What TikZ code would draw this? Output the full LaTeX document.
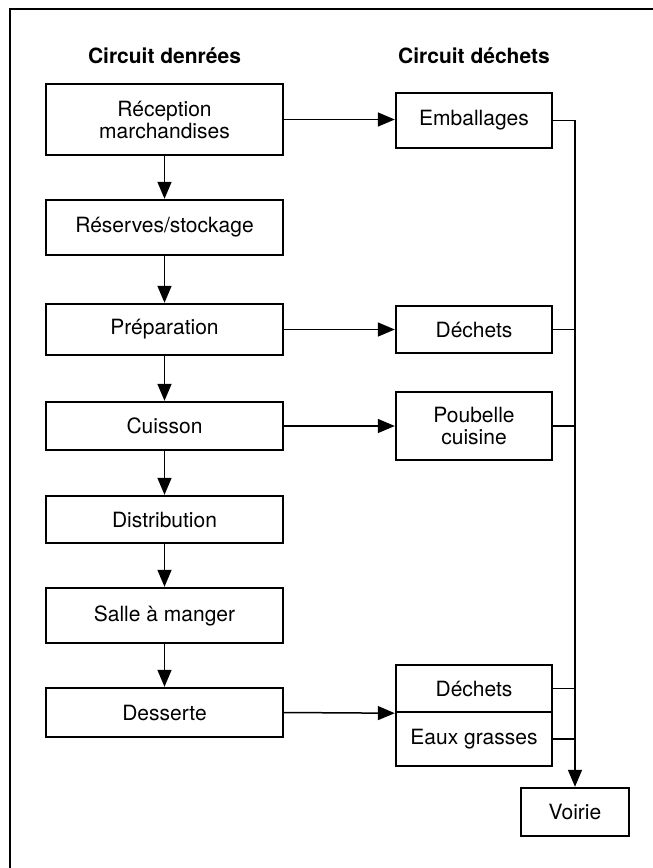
\documentclass[tikz,border=0pt]{standalone}
\usepackage{fontspec}
\setmainfont{TeX Gyre Heros}
\usetikzlibrary{arrows.meta}
\tikzset{>={Triangle[length=17pt, width=14pt]}}
\tikzset{
  etape/.style={shape=rectangle, draw, line width=2.4pt, fill=white, minimum width=237pt, minimum height=51pt, inner sep=0pt, align=center, font=\fontsize{21}{22}\selectfont},
  dechet/.style={etape, minimum width=156pt},
  titre/.style={font=\fontsize{21}{22}\selectfont\bfseries},
  flux/.style={->, draw, line width=1.5pt},
}

\begin{document}
\begin{tikzpicture}[x=1pt, y=-1pt]
    \useasboundingbox (0, 0) rectangle (653, 868);
    \draw[line width=2pt] (10, 868) -- (10, 8.5) -- (653, 8.5);

    \node at (164.5, 56) (titreD) [titre] {Circuit denrées};
    \node at (474, 56) (titreW) [titre] {Circuit déchets};

    % circuit denrees
    \node at (164.5, 119.5) (recep) [etape, minimum height=71pt] {Réception\\marchandises};
    \node at (164.5, 227.5) (reserv) [etape, minimum height=55pt] {Réserves/stockage};
    \node at (164.5, 329.5) (prep) [etape] {Préparation};
    \node at (164.5, 426) (cuis) [etape, minimum height=48pt] {Cuisson};
    \node at (164.5, 519.5) (distr) [etape, minimum height=47pt] {Distribution};
    \node at (164.5, 615.5) (salle) [etape, minimum height=55pt] {Salle à manger};
    \node at (164.5, 712.5) (dess) [etape, minimum height=49pt] {Desserte};

    % circuit dechets
    \node at (474, 120.5) (emb) [dechet, minimum height=55pt] {Emballages};
    \node at (474, 329.5) (dechP) [dechet, minimum height=47pt] {Déchets};
    \node at (474, 426) (poub) [dechet, minimum height=68pt] {Poubelle\\cuisine};
    \node at (474, 688.5) (dechD) [dechet, minimum height=47pt] {Déchets};
    \node at (474, 739) (eaux) [dechet, minimum height=54pt] {Eaux grasses};
    \node at (575, 812) (voirie) [dechet, minimum width=108pt, minimum height=48pt] {Voirie};

    \path[flux] (recep) -- (reserv);
    \path[flux] (reserv) -- (prep);
    \path[flux] (prep) -- (cuis);
    \path[flux] (cuis) -- (distr);
    \path[flux] (distr) -- (salle);
    \path[flux] (salle) -- (dess);

    \path[flux] (recep.east) -- (recep.east -| emb.west);
    \path[flux] (prep) -- (dechP);
    \path[flux] (cuis) -- (poub);
    \path[flux] (dess.east) -- (dechD.south west);

    \path[flux] (emb.east) -| (voirie.north);
    \path[draw, line width=1.5pt] (dechP.east) -- (dechP.east -| voirie.north);
    \path[draw, line width=1.5pt] (poub.east) -- (poub.east -| voirie.north);
    \path[draw, line width=1.5pt] (dechD.east) -- (dechD.east -| voirie.north);
    \path[draw, line width=1.5pt] (eaux.east) -- (eaux.east -| voirie.north);
  \end{tikzpicture}
\end{document}
